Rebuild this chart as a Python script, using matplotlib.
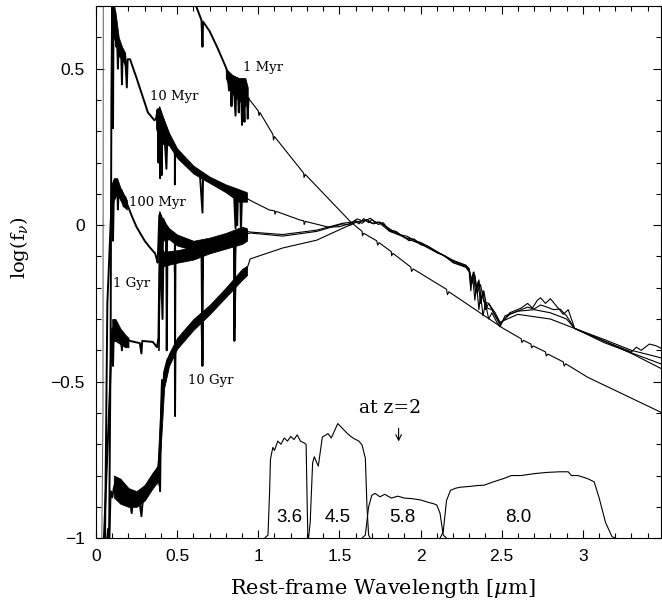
import matplotlib
matplotlib.use("Agg")
from matplotlib import pyplot as plt
from matplotlib.ticker import MultipleLocator

plt.rcParams['mathtext.fontset'] = 'dejavuserif'

# ---- spectra: UV/optical part (high resolution) and IR part (thin)
wl_1myr_uv = [0.035, 0.043, 0.045, 0.10]
f_1myr_uv = [-1.05, -0.6, 0.75, 1.3]
wl_1myr_opt = [0.10, 0.30, 0.55, 0.617, 0.65, 0.6563, 0.66, 0.70, 0.75, 0.80,
               0.81, 0.82, 0.825, 0.83, 0.835, 0.84, 0.85, 0.86, 0.865, 0.875, 0.88, 0.885, 0.895,
               0.90, 0.905, 0.91, 0.915, 0.92, 0.925, 0.93, 0.935, 0.94]
f_1myr_opt = [1.3, 1.1, 0.80, 0.70, 0.655, 0.57, 0.65, 0.62, 0.565, 0.505,
              0.49, 0.43, 0.48, 0.47, 0.38, 0.46, 0.44, 0.35, 0.45, 0.43, 0.36, 0.44, 0.42,
              0.32, 0.43, 0.40, 0.33, 0.46, 0.41, 0.42, 0.34, 0.405]
wl_1myr_ir = [0.94, 1.00, 1.005, 1.01, 1.09, 1.094, 1.10, 1.28, 1.282, 1.29, 1.57, 1.64, 1.642, 1.65,
              1.73, 1.736, 1.745, 1.82, 1.822, 1.83, 1.94, 1.945, 1.955, 2.16, 2.166, 2.175, 2.51,
              2.62, 2.625, 2.635, 2.68, 2.685, 2.695, 2.77, 2.775, 2.785, 2.88, 2.885, 2.895,
              3.03, 3.49]
f_1myr_ir = [0.405, 0.365, 0.350, 0.360, 0.290, 0.272, 0.283, 0.166, 0.152, 0.162, 0.010, -0.020,
             -0.034, -0.026, -0.050, -0.064, -0.056, -0.085, -0.098, -0.090, -0.134, -0.148, -0.140,
             -0.205, -0.222, -0.213, -0.330, -0.363, -0.375, -0.368, -0.380, -0.392, -0.386,
             -0.405, -0.418, -0.412, -0.437, -0.450, -0.443, -0.486, -0.600]

wl_10myr_opt = [0.08, 0.09, 0.095, 0.10, 0.103, 0.105, 0.108, 0.112, 0.117, 0.12, 0.125, 0.13, 0.135,
                0.14, 0.155, 0.16, 0.165, 0.18, 0.19, 0.195, 0.21, 0.25, 0.32, 0.36, 0.37, 0.38,
                0.385, 0.39, 0.395, 0.40, 0.405, 0.41, 0.42, 0.434, 0.44, 0.486, 0.4862, 0.488,
                0.52, 0.56, 0.60, 0.64, 0.6563, 0.66, 0.72, 0.78, 0.85, 0.86, 0.865, 0.87, 0.875,
                0.89, 0.893, 0.90, 0.91, 0.93]
f_10myr_opt = [-1.05, -0.4, 0.4, 0.72, 0.75, 0.31, 0.68, 0.72, 0.63, 0.66, 0.57, 0.60, 0.50,
               0.58, 0.56, 0.45, 0.56, 0.54, 0.44, 0.53, 0.53, 0.47, 0.36, 0.335, 0.34, 0.37,
               0.20, 0.37, 0.15, 0.36, 0.16, 0.34, 0.31, 0.18, 0.29, 0.25, 0.13, 0.24,
               0.23, 0.20, 0.18, 0.166, 0.04, 0.16, 0.14, 0.128, 0.11, -0.01, 0.10, 0.0, 0.10,
               0.09, -0.02, 0.095, 0.09, 0.085]
wl_10myr_ir = [0.93, 0.97, 1.07, 1.10, 1.103, 1.11, 1.26, 1.28, 1.283, 1.29, 1.43, 1.50, 1.57, 1.60,
               1.62, 1.65, 1.68, 1.70, 1.74, 1.77, 1.81, 1.86, 1.90, 1.93, 1.96, 2.00, 2.05, 2.10,
               2.15, 2.20, 2.28, 2.30, 2.31, 2.32, 2.335, 2.345, 2.36, 2.37, 2.385, 2.40,
               2.42, 2.44, 2.47, 2.49, 2.52, 2.60, 2.70, 2.80, 2.90, 2.95, 3.13, 3.30, 3.49]
f_10myr_ir = [0.085, 0.074, 0.048, 0.046, 0.035, 0.044, 0.016, 0.014, 0.002, 0.012, -0.006, -0.005,
              0.006, 0.013, 0.004, 0.021, 0.008, 0.018, 0.002, 0.008, -0.018, -0.026, -0.038,
              -0.050, -0.044, -0.062, -0.070, -0.088, -0.098, -0.120, -0.135, -0.150, -0.210,
              -0.160, -0.240, -0.190, -0.270, -0.220, -0.290, -0.250, -0.300, -0.280, -0.310,
              -0.325, -0.290, -0.275, -0.270, -0.280, -0.300, -0.330, -0.370, -0.410, -0.460]

wl_100myr_opt = [0.055, 0.07, 0.09, 0.10, 0.105, 0.11, 0.12, 0.13, 0.135, 0.14, 0.15, 0.16, 0.17,
                 0.18, 0.19, 0.22, 0.25, 0.30, 0.33, 0.364, 0.37, 0.38, 0.385, 0.39, 0.395, 0.397,
                 0.40, 0.41, 0.415, 0.43, 0.434, 0.44, 0.457, 0.486, 0.4862, 0.488, 0.52, 0.60,
                 0.6563, 0.657, 0.66, 0.70, 0.80, 0.85, 0.855, 0.86, 0.90, 0.93]
f_100myr_opt = [-1.05, -0.25, 0.0, 0.12, -0.05, 0.11, 0.13, 0.144, 0.05, 0.12, 0.10, 0.11, 0.06,
                0.09, 0.07, 0.03, -0.006, -0.05, -0.07, -0.09, -0.10, -0.12, -0.05, 0.03, 0.038,
                -0.10, 0.03, -0.12, 0.02, 0.0, -0.13, -0.01, -0.026, -0.045, -0.15, -0.05, -0.06,
                -0.07, -0.065, -0.17, -0.065, -0.06, -0.04, -0.03, -0.15, -0.03, -0.02, -0.02]
wl_100myr_ir = [0.93, 0.95, 1.15, 1.36, 1.52, 1.58, 1.61, 1.65, 1.69, 1.72, 1.76, 1.81, 1.87, 1.92,
                1.97, 2.00, 2.06, 2.12, 2.20, 2.28, 2.30, 2.31, 2.325, 2.34,
                2.355, 2.37, 2.385, 2.40, 2.42, 2.45, 2.49, 2.55, 2.62, 2.66, 2.69, 2.72, 2.74,
                2.77, 2.80, 2.84, 2.88, 2.91, 2.93, 2.95, 3.13, 3.30, 3.49]
f_100myr_ir = [-0.02, -0.022, -0.030, -0.016, 0.006, 0.010, 0.020, 0.012, 0.022, 0.010, 0.006,
               -0.012, -0.030, -0.036, -0.052, -0.055, -0.072, -0.090, -0.112, -0.128, -0.140,
               -0.190, -0.150, -0.220, -0.180, -0.250, -0.210, -0.270, -0.250, -0.280, -0.318,
               -0.280, -0.265, -0.250, -0.265, -0.240, -0.232, -0.250, -0.235, -0.260, -0.285,
               -0.270, -0.300, -0.330, -0.365, -0.400, -0.425]

wl_1gyr_opt = [0.045, 0.08, 0.10, 0.105, 0.11, 0.117, 0.12, 0.125, 0.13, 0.15, 0.16, 0.165, 0.18,
               0.21, 0.27, 0.28, 0.285, 0.35, 0.376, 0.385, 0.39, 0.395, 0.40, 0.41, 0.415, 0.434,
               0.436, 0.44, 0.486, 0.487, 0.49, 0.55, 0.60, 0.65, 0.656, 0.66, 0.75, 0.85, 0.853,
               0.86, 0.91, 0.93]
f_1gyr_opt = [-1.05, -0.6, -0.33, -0.45, -0.33, -0.31, -0.36, -0.32, -0.34, -0.35, -0.40, -0.35,
              -0.36, -0.37, -0.377, -0.41, -0.37, -0.373, -0.39, -0.36, -0.15, -0.05, -0.11, -0.30,
              -0.11, -0.11, -0.40, -0.105, -0.095, -0.44, -0.095, -0.088, -0.08, -0.072, -0.43,
              -0.07, -0.055, -0.042, -0.37, -0.04, -0.03, -0.028]
wl_1gyr_ir = [0.93, 0.95, 1.15, 1.36, 1.52, 1.57, 1.60, 1.64, 1.67, 1.71, 1.75, 1.81, 1.85, 1.90,
              1.95, 2.00, 2.04, 2.10, 2.20, 2.28, 2.30, 2.315, 2.33, 2.345,
              2.36, 2.375, 2.39, 2.41, 2.44, 2.49, 2.55, 2.62, 2.66, 2.70, 2.74, 2.78, 2.82, 2.86,
              2.90, 2.95, 3.13, 3.30, 3.33, 3.36, 3.41, 3.45, 3.49]
f_1gyr_ir = [-0.028, -0.025, -0.035, -0.020, 0.004, 0.000, 0.014, 0.006, 0.018, 0.004, 0.010,
             -0.016, -0.020, -0.040, -0.044, -0.058, -0.066, -0.085, -0.115, -0.130, -0.140,
             -0.180, -0.150, -0.210, -0.175, -0.240, -0.210, -0.265, -0.270, -0.315, -0.285,
             -0.270, -0.262, -0.268, -0.255, -0.262, -0.270, -0.268, -0.290, -0.330, -0.370,
             -0.405, -0.390, -0.400, -0.380, -0.385, -0.395]

wl_10gyr_opt = [0.06, 0.075, 0.08, 0.09, 0.10, 0.11, 0.12, 0.125, 0.13, 0.15, 0.16, 0.18, 0.21,
                0.22, 0.23, 0.27, 0.28, 0.29, 0.33, 0.36, 0.376, 0.385, 0.39, 0.395, 0.398, 0.40,
                0.405, 0.407, 0.41, 0.42, 0.44, 0.486, 0.487, 0.49, 0.54, 0.60, 0.65, 0.656, 0.66,
                0.68, 0.75, 0.81, 0.85, 0.853, 0.86, 0.91, 0.93]
f_10gyr_opt = [-1.05, -0.97, -1.05, -0.85, -0.87, -0.84, -0.82, -0.87, -0.84, -0.83, -0.87, -0.86,
               -0.88, -0.92, -0.87, -0.89, -0.93, -0.87, -0.83, -0.80, -0.78, -0.77, -0.74, -0.85,
               -0.72, -0.62, -0.52, -0.495, -0.55, -0.47, -0.43, -0.39, -0.61, -0.39, -0.345,
               -0.31, -0.29, -0.45, -0.29, -0.28, -0.245, -0.21, -0.19, -0.33, -0.185, -0.15, -0.14]
wl_10gyr_ir = [0.93, 0.95, 1.15, 1.36, 1.52, 1.58, 1.62, 1.66, 1.70, 1.74, 1.81, 1.88, 1.94, 2.00,
               2.08, 2.14, 2.20, 2.28, 2.30, 2.32, 2.335, 2.35,
               2.37, 2.39, 2.42, 2.46, 2.49, 2.60, 2.80, 2.95, 3.13, 3.49]
f_10gyr_ir = [-0.14, -0.108, -0.073, -0.048, -0.010, 0.004, 0.012, 0.016, 0.006, 0.010, -0.020,
              -0.034, -0.048, -0.060, -0.082, -0.096, -0.118, -0.132, -0.145,
              -0.185, -0.160, -0.215, -0.190, -0.245, -0.250, -0.280, -0.310, -0.285, -0.300,
              -0.330, -0.375, -0.445]

# ---- dense absorption bands (upper / lower envelope of the high-resolution parts)
wl_band_1myr = [0.80, 0.84, 0.88, 0.92, 0.935]
hi_band_1myr = [0.50, 0.48, 0.47, 0.47, 0.44]
lo_band_1myr = [0.47, 0.42, 0.40, 0.38, 0.40]
wl_band_10myr_uv = [0.10, 0.12, 0.14, 0.16, 0.18]
hi_band_10myr_uv = [0.72, 0.68, 0.60, 0.57, 0.55]
lo_band_10myr_uv = [0.62, 0.58, 0.54, 0.53, 0.51]
wl_band_10myr = [0.37, 0.39, 0.41, 0.45, 0.50, 0.60, 0.70, 0.80, 0.88, 0.93]
hi_band_10myr = [0.36, 0.38, 0.35, 0.295, 0.245, 0.19, 0.155, 0.13, 0.115, 0.105]
lo_band_10myr = [0.31, 0.27, 0.26, 0.255, 0.215, 0.165, 0.135, 0.105, 0.075, 0.075]
wl_band_100myr_uv = [0.095, 0.11, 0.13, 0.15, 0.17, 0.19]
hi_band_100myr_uv = [0.13, 0.15, 0.15, 0.12, 0.10, 0.08]
lo_band_100myr_uv = [0.06, 0.08, 0.10, 0.08, 0.06, 0.05]
wl_band_100myr = [0.39, 0.41, 0.45, 0.50, 0.60, 0.70, 0.80, 0.90, 0.93]
hi_band_100myr = [0.045, 0.02, -0.01, -0.03, -0.05, -0.04, -0.025, -0.005, -0.01]
lo_band_100myr = [-0.05, -0.05, -0.045, -0.065, -0.08, -0.075, -0.06, -0.045, -0.04]
wl_band_1gyr_uv = [0.10, 0.12, 0.15, 0.18, 0.20]
hi_band_1gyr_uv = [-0.30, -0.30, -0.33, -0.35, -0.36]
lo_band_1gyr_uv = [-0.37, -0.37, -0.38, -0.39, -0.39]
wl_band_1gyr = [0.385, 0.395, 0.42, 0.50, 0.60, 0.70, 0.80, 0.90, 0.93]
hi_band_1gyr = [-0.36, -0.07, -0.085, -0.08, -0.07, -0.055, -0.04, -0.02, -0.02]
lo_band_1gyr = [-0.40, -0.14, -0.13, -0.12, -0.11, -0.09, -0.075, -0.06, -0.05]
wl_band_10gyr_uv = [0.11, 0.15, 0.20, 0.25, 0.30, 0.35, 0.38]
hi_band_10gyr_uv = [-0.80, -0.81, -0.84, -0.85, -0.83, -0.79, -0.77]
lo_band_10gyr_uv = [-0.87, -0.89, -0.90, -0.90, -0.88, -0.84, -0.82]
wl_band_10gyr = [0.38, 0.40, 0.42, 0.45, 0.50, 0.60, 0.70, 0.80, 0.90, 0.93]
hi_band_10gyr = [-0.76, -0.55, -0.46, -0.41, -0.36, -0.30, -0.255, -0.20, -0.14, -0.13]
lo_band_10gyr = [-0.83, -0.70, -0.52, -0.45, -0.395, -0.335, -0.285, -0.23, -0.175, -0.16]

# ---- IRAC filter curves at z=2 (drawn on the same axes)
wl_ch1 = [1.04, 1.06, 1.07, 1.075, 1.08, 1.09, 1.10, 1.12, 1.14, 1.16, 1.18, 1.20, 1.22, 1.24,
          1.26, 1.28, 1.295, 1.30, 1.305, 1.31]
f_ch1 = [-1.0, -0.99, -0.85, -0.75, -0.735, -0.71, -0.72, -0.69, -0.70, -0.68, -0.69, -0.675,
         -0.685, -0.67, -0.69, -0.695, -0.70, -0.85, -0.98, -1.0]
wl_ch2 = [1.31, 1.32, 1.335, 1.345, 1.37, 1.395, 1.43, 1.45, 1.49, 1.52, 1.55, 1.57, 1.59, 1.62,
          1.64, 1.66, 1.67, 1.68, 1.69]
f_ch2 = [-1.0, -0.95, -0.76, -0.74, -0.77, -0.677, -0.666, -0.68, -0.634, -0.65, -0.666, -0.675,
         -0.682, -0.69, -0.703, -0.745, -0.90, -0.99, -1.0]
wl_ch3 = [1.64, 1.66, 1.68, 1.70, 1.72, 1.75, 1.78, 1.82, 1.86, 1.90, 1.95, 2.00, 2.05, 2.08,
          2.10, 2.12, 2.14, 2.16]
f_ch3 = [-1.0, -0.99, -0.90, -0.863, -0.857, -0.868, -0.86, -0.872, -0.866, -0.872, -0.874,
         -0.878, -0.886, -0.89, -0.894, -0.92, -0.99, -1.0]
wl_ch4 = [2.12, 2.14, 2.16, 2.185, 2.22, 2.25, 2.30, 2.35, 2.39, 2.45, 2.51, 2.56, 2.62, 2.70,
          2.78, 2.86, 2.91, 2.93, 2.97, 3.03, 3.07, 3.10, 3.14, 3.18, 3.20]
f_ch4 = [-1.0, -0.98, -0.88, -0.847, -0.84, -0.837, -0.835, -0.832, -0.831, -0.82, -0.81, -0.80,
         -0.80, -0.794, -0.79, -0.788, -0.788, -0.80, -0.80, -0.81, -0.82, -0.87, -0.95, -0.995, -1.0]

filter_names = ['3.6', '4.5', '5.8', '8.0']
filter_label_x = [1.19, 1.49, 1.89, 2.60]

age_labels = ['1 Myr', '10 Myr', '100 Myr', '1 Gyr', '10 Gyr']
age_label_x = [0.905, 0.335, 0.205, 0.105, 0.565]
age_label_y = [0.505, 0.41, 0.073, -0.185, -0.495]

fig = plt.figure(figsize=(6.62, 6.06), dpi=100)
ax = fig.add_axes([0.145, 0.112, 0.853, 0.878])

ax.plot(wl_1myr_uv, f_1myr_uv, color='0.35', lw=0.7)
spectra = [(wl_1myr_opt, f_1myr_opt, wl_1myr_ir, f_1myr_ir),
           (wl_10myr_opt, f_10myr_opt, wl_10myr_ir, f_10myr_ir),
           (wl_100myr_opt, f_100myr_opt, wl_100myr_ir, f_100myr_ir),
           (wl_1gyr_opt, f_1gyr_opt, wl_1gyr_ir, f_1gyr_ir),
           (wl_10gyr_opt, f_10gyr_opt, wl_10gyr_ir, f_10gyr_ir)]
for wo, fo, wi, fi in spectra:
    ax.plot(wo, fo, color='black', lw=1.4)
    ax.plot(wi, fi, color='black', lw=0.8)

bands = [(wl_band_1myr, hi_band_1myr, lo_band_1myr),
         (wl_band_10myr_uv, hi_band_10myr_uv, lo_band_10myr_uv),
         (wl_band_10myr, hi_band_10myr, lo_band_10myr),
         (wl_band_100myr_uv, hi_band_100myr_uv, lo_band_100myr_uv),
         (wl_band_100myr, hi_band_100myr, lo_band_100myr),
         (wl_band_1gyr_uv, hi_band_1gyr_uv, lo_band_1gyr_uv),
         (wl_band_1gyr, hi_band_1gyr, lo_band_1gyr),
         (wl_band_10gyr_uv, hi_band_10gyr_uv, lo_band_10gyr_uv),
         (wl_band_10gyr, hi_band_10gyr, lo_band_10gyr)]
for wl, hi, lo in bands:
    ax.fill_between(wl, lo, hi, color='black', lw=0.6)

for wl, f in [(wl_ch1, f_ch1), (wl_ch2, f_ch2), (wl_ch3, f_ch3), (wl_ch4, f_ch4)]:
    ax.plot(wl, f, color='black', lw=0.8)

for name, x in zip(filter_names, filter_label_x):
    ax.text(x, -0.935, name, ha='center', va='center', fontsize=13.5, family='Liberation Sans')

for name, x, y in zip(age_labels, age_label_x, age_label_y):
    ax.text(x, y, name, ha='left', va='center', fontsize=9.5, family='DejaVu Serif')

ax.text(1.81, -0.585, 'at z=2', ha='center', va='center', fontsize=13.5, family='DejaVu Serif')
ax.annotate('', xy=(1.865, -0.70), xytext=(1.865, -0.64),
            arrowprops=dict(arrowstyle='->', color='black', lw=0.8))

ax.set_xlim(0, 3.48)
ax.set_ylim(-1, 0.7)
ax.xaxis.set_minor_locator(MultipleLocator(0.1))
ax.yaxis.set_minor_locator(MultipleLocator(0.1))
ax.set_xticks([0, 0.5, 1, 1.5, 2, 2.5, 3])
ax.set_xticklabels(['0', '0.5', '1', '1.5', '2', '2.5', '3'])
ax.set_yticks([-1, -0.5, 0, 0.5])
ax.set_yticklabels(['\u22121', '\u22120.5', '0', '0.5'])
ax.tick_params(which='both', direction='in', top=True, right=True, width=0.8)
ax.tick_params(which='major', length=6, labelsize=12.5, pad=8)
ax.tick_params(which='minor', length=3.5)
for lab in ax.get_xticklabels() + ax.get_yticklabels():
    lab.set_family('Liberation Sans')
for sp in ax.spines.values():
    sp.set_linewidth(0.8)

ax.set_xlabel(r'Rest-frame Wavelength [$\mu$m]', fontsize=15, family='DejaVu Serif', va='center')
ax.xaxis.set_label_coords(0.507, -0.094)
ax.set_ylabel(r'log(f$_\nu$)', fontsize=14, family='DejaVu Serif', va='center')
ax.yaxis.set_label_coords(-0.136, 0.545)

fig.savefig('out.png', dpi=100)
